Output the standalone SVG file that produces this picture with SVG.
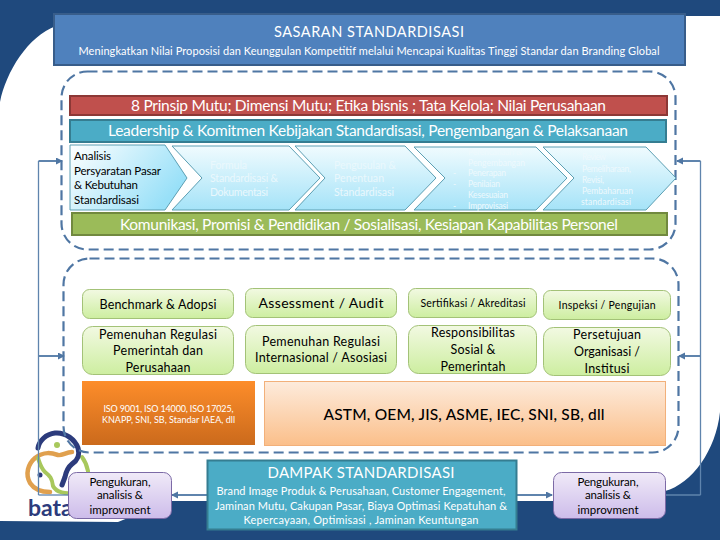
<svg xmlns="http://www.w3.org/2000/svg" width="720" height="540" viewBox="0 0 720 540">
<style>
text{font-family:Lato,"Open Sans","DejaVu Sans",sans-serif;text-anchor:middle}
.w{fill:#fff}.k{fill:#000}
.s{text-anchor:start}
.f{fill:#eaf8fd;font-size:10.500px}
.f8{fill:#eef9fd;font-size:8.500px;text-anchor:start}
.dash{fill:none;stroke:#4f76a3;stroke-width:2.200;stroke-dasharray:10 5}
.line{fill:none;stroke:#5f84ad;stroke-width:1.300}
.thick{fill:none;stroke:#5f84ad;stroke-width:2;marker-end:url(#ah)}
.chev{fill:url(#gc);stroke:#5c9fb3;stroke-width:1}
.gn{fill:url(#gg);stroke:#a3c277;stroke-width:1}
.pu{fill:url(#gp);stroke:#7c6aa6;stroke-width:1}
.logo{fill:none;stroke-linecap:round;stroke-linejoin:round}
</style>
<defs>
<marker id="ah" markerWidth="8" markerHeight="8" refX="6" refY="3.500" orient="auto" markerUnits="userSpaceOnUse"><path d="M0 0L7 3.500L0 7Z" fill="#4f76a3"/></marker>
<linearGradient id="gc" x1="0" y1="0" x2="0" y2="1"><stop offset="0" stop-color="#f0fbfe"/><stop offset="1" stop-color="#a5e3f8"/></linearGradient>
<linearGradient id="gc1" x1="0" y1="0" x2="1" y2="0.500"><stop offset="0" stop-color="#fff"/><stop offset="1" stop-color="#98e0f8"/></linearGradient>
<linearGradient id="gg" x1="0" y1="0" x2="0" y2="1"><stop offset="0" stop-color="#f2f9e2"/><stop offset="1" stop-color="#cdeea0"/></linearGradient>
<linearGradient id="gp" x1="0" y1="0" x2="0" y2="1"><stop offset="0" stop-color="#f0eaf8"/><stop offset="1" stop-color="#cdbcea"/></linearGradient>
<linearGradient id="go" x1="0" y1="0" x2="0" y2="1"><stop offset="0" stop-color="#fd8d2a"/><stop offset="1" stop-color="#cb6a1c"/></linearGradient>
<linearGradient id="gl" x1="0" y1="0" x2="0" y2="1"><stop offset="0" stop-color="#fdebdc"/><stop offset="1" stop-color="#fbbf8a"/></linearGradient>
</defs>

<g id="background">
<rect width="720" height="540" fill="#1f497d"/>
<path d="M0 102C6 72 28 36 56 26L56 16L720 16L720 412C716 450 692 484 665 491L620 501L170 501L118 522L0 521Z" fill="#fff"/>
</g>

<g id="logo">
<path class="logo" stroke="#e0a04e" stroke-width="4.500" d="M72 452C66 452 62 456 58 455C52 453 44 451 35 458C28 464 25 474 30 483C34 489 42 492 50 492"/>
<path class="logo" stroke="#a8c85c" stroke-width="4" d="M38 458C40 464 41 468 45 472C50 476 52 478 53 486C56 492 66 495 75 492C83 489 89 480 88 471C87 466 85 461 82 457"/>
<path class="logo" stroke="#2c3b7c" stroke-width="5" d="M38 448C39 441 46 434 55 433C66 432 75 440 78 448C80 455 77 461 72 464C67 468 66 472 65 477L62 485"/>
<circle cx="57" cy="445" r="3" fill="#a8c85c"/>
<circle cx="40" cy="475" r="2.500" fill="#2c3b7c"/>
<text class="s" x="28" y="516" style="font-size:23px;font-weight:700;fill:#2c3b7c">bata</text>
</g>

<g id="connectors">
<path class="line" d="M38.500 495L38.500 161"/>
<path class="thick" d="M38.500 161L62 161"/>
<path class="thick" d="M38.500 356L64 356"/>
<path class="line" d="M38.500 495L70 495"/>
<path class="line" d="M700.500 495L700.500 161"/>
<path class="thick" d="M700.500 161L677 161"/>
<path class="thick" d="M700.500 356L679 356"/>
<path class="line" d="M665 495L700.500 495"/>
<path class="thick" d="M207 495L172 495"/>
<path class="thick" d="M517 495L552 495"/>
</g>

<g id="frames">
<rect class="dash" x="61.500" y="71.500" width="614" height="178" rx="26"/>
<rect class="dash" x="63.500" y="258.500" width="615" height="194" rx="26"/>
</g>

<g id="sasaran">
<rect x="54" y="14" width="631" height="51" fill="#4f81bd" stroke="#385d8a" stroke-width="2"/>
<text class="w" x="369" y="37" font-size="14.500" textLength="190">SASARAN STANDARDISASI</text>
<text class="w" x="369" y="55" font-size="11" textLength="581">Meningkatkan Nilai Proposisi dan Keunggulan Kompetitif melalui Mencapai Kualitas Tinggi Standar dan Branding Global</text>
</g>

<g id="prinsip">
<rect x="70" y="96" width="597" height="19" fill="#c0504d" stroke="#8c3836" stroke-width="2"/>
<text class="w" x="368.500" y="111" font-size="15.500" textLength="475">8 Prinsip Mutu; Dimensi Mutu; Etika bisnis ; Tata Kelola; Nilai Perusahaan</text>
</g>
<g id="leadership">
<rect x="70" y="120" width="596" height="22" fill="#4bacc6" stroke="#357d91" stroke-width="2"/>
<text class="w" x="368" y="136" font-size="15.500" textLength="520">Leadership &amp; Komitmen Kebijakan Standardisasi, Pengembangan &amp; Pelaksanaan</text>
</g>

<g id="step-1">
<path d="M70 145L165 145L187 178L165 210L70 210Z" fill="url(#gc1)" stroke="#5c9fb3"/>
<text class="k s" x="74" y="160" font-size="11.500" textLength="37">Analisis</text>
<text class="k s" x="74" y="175" font-size="11.500" textLength="87">Persyaratan Pasar</text>
<text class="k s" x="74" y="189" font-size="11.500" textLength="64">&amp; Kebutuhan</text>
<text class="k s" x="74" y="204" font-size="11.500" textLength="65">Standardisasi</text>
</g>
<g id="step-2">
<path class="chev" d="M172 146L289 146L320 178L289 210L172 210L202 178Z"/>
<text class="f s" x="210" y="169" textLength="37">Formula</text>
<text class="f s" x="210" y="182" textLength="68">Standardisasi &amp;</text>
<text class="f s" x="210" y="196" textLength="58">Dokumentasi</text>
</g>
<g id="step-3">
<path class="chev" d="M295 146L405 146L436 178L405 210L295 210L325 178Z"/>
<text class="f s" x="334" y="169" textLength="62">Pengusulan &amp;</text>
<text class="f s" x="334" y="182" textLength="50">Penentuan</text>
<text class="f s" x="334" y="196" textLength="60">Standardisasi</text>
</g>
<g id="step-4">
<path class="chev" d="M414 147L536 147L567 178L536 210L414 210L445 178Z"/>
<text class="f8" x="453" y="155">-</text>
<text class="f8" x="468" y="155" textLength="54">Perencanaan &amp;</text>
<text class="f8" x="468" y="166" textLength="57">Pengembangan</text>
<text class="f8" x="453" y="176">-</text>
<text class="f8" x="468" y="176" textLength="38">Penerapan</text>
<text class="f8" x="453" y="187">-</text>
<text class="f8" x="468" y="187" textLength="32">Penilaian</text>
<text class="f8" x="468" y="198" textLength="40">Kesesuaian</text>
<text class="f8" x="453" y="209">-</text>
<text class="f8" x="468" y="209" textLength="40">Improvisasi</text>
</g>
<g id="step-5">
<path class="chev" d="M543 147L646 147L676 178L646 210L543 210L574 178Z"/>
<text class="f8" x="582" y="160" textLength="24">Review</text>
<text class="f8" x="582" y="172" textLength="49">Pemeliharaan,</text>
<text class="f8" x="582" y="183" textLength="22">Revisi,</text>
<text class="f8" x="582" y="194" textLength="51">Pembaharuan</text>
<text class="f8" x="581" y="205" textLength="50">standardisasi</text>
</g>

<g id="komunikasi">
<rect x="72" y="213" width="595" height="22" fill="#9bbb59" stroke="#71893f" stroke-width="2"/>
<text class="w" x="369" y="230" font-size="15.500" textLength="498">Komunikasi, Promisi &amp; Pendidikan / Sosialisasi, Kesiapan Kapabilitas Personel</text>
</g>

<g id="benchmark"><rect class="gn" x="82.500" y="289.500" width="151" height="29" rx="7"/>
<text class="k" x="158" y="309" font-size="12.500" textLength="117">Benchmark &amp; Adopsi</text></g>
<g id="assessment"><rect class="gn" x="245.500" y="288.500" width="151" height="29" rx="7"/>
<text class="k" x="321" y="308" font-size="14" textLength="125">Assessment / Audit</text></g>
<g id="sertifikasi"><rect class="gn" x="408.500" y="288.500" width="128" height="29" rx="7"/>
<text class="k" x="473" y="307" font-size="10.500" textLength="105">Sertifikasi / Akreditasi</text></g>
<g id="inspeksi"><rect class="gn" x="543.500" y="290.500" width="127" height="29" rx="7"/>
<text class="k" x="607" y="309" font-size="10.500" textLength="97">Inspeksi / Pengujian</text></g>

<g id="regulasi-pemerintah"><rect class="gn" x="82.500" y="326.500" width="151" height="48" rx="10"/>
<text class="k" x="158" y="339" font-size="12.500" textLength="118">Pemenuhan Regulasi</text>
<text class="k" x="158" y="355" font-size="12.500" textLength="90">Pemerintah dan</text>
<text class="k" x="158" y="372" font-size="12.500" textLength="65">Perusahaan</text></g>
<g id="regulasi-internasional"><rect class="gn" x="245.500" y="325.500" width="151" height="48" rx="10"/>
<text class="k" x="321" y="346" font-size="12.500" textLength="118">Pemenuhan Regulasi</text>
<text class="k" x="321" y="362" font-size="12.500" textLength="132">Internasional / Asosiasi</text></g>
<g id="responsibilitas"><rect class="gn" x="408.500" y="325.500" width="128" height="48" rx="10"/>
<text class="k" x="473" y="337" font-size="12.500" textLength="84">Responsibilitas</text>
<text class="k" x="473" y="354" font-size="12.500" textLength="45">Sosial &amp;</text>
<text class="k" x="473" y="371" font-size="12.500" textLength="65">Pemerintah</text></g>
<g id="persetujuan"><rect class="gn" x="543.500" y="327.500" width="127" height="48" rx="10"/>
<text class="k" x="607" y="339" font-size="12.500" textLength="68">Persetujuan</text>
<text class="k" x="607" y="356" font-size="12.500" textLength="66">Organisasi /</text>
<text class="k" x="607" y="373" font-size="12.500" textLength="45">Institusi</text></g>

<g id="iso"><rect x="82" y="381" width="173" height="64" fill="url(#go)"/>
<text class="w" x="168.500" y="412" font-size="9" textLength="130">ISO 9001, ISO 14000, ISO 17025,</text>
<text class="w" x="168.500" y="423" font-size="9" textLength="133">KNAPP, SNI, SB, Standar IAEA, dll</text></g>
<g id="astm"><rect x="264.500" y="381.500" width="401" height="64" fill="url(#gl)" stroke="#f2b07a"/>
<text class="k" x="464" y="420" font-size="15.500" font-weight="500" textLength="281">ASTM, OEM, JIS, ASME, IEC, SNI, SB, dll</text></g>

<g id="dampak"><rect x="207.500" y="460.500" width="309" height="69" fill="#4bacc6" stroke="#357d91" stroke-width="2"/>
<text class="w" x="361" y="478" font-size="15" textLength="187">DAMPAK STANDARDISASI</text>
<text class="w" x="361" y="495" font-size="11" textLength="289">Brand Image Produk &amp; Perusahaan, Customer Engagement,</text>
<text class="w" x="361" y="510" font-size="11" textLength="292">Jaminan Mutu, Cakupan Pasar, Biaya Optimasi Kepatuhan &amp;</text>
<text class="w" x="361" y="524" font-size="11" textLength="235">Kepercayaan, Optimisasi , Jaminan Keuntungan</text></g>

<g id="pengukuran-kiri"><rect class="pu" x="68.500" y="472.500" width="103" height="46" rx="8"/>
<text class="k" x="120" y="486" font-size="11.500" textLength="61">Pengukuran,</text>
<text class="k" x="120" y="499" font-size="11.500" textLength="46">analisis &amp;</text>
<text class="k" x="120" y="514" font-size="11.500" textLength="61">improvment</text></g>
<g id="pengukuran-kanan"><rect class="pu" x="553.500" y="472.500" width="112" height="46" rx="8"/>
<text class="k" x="608" y="486" font-size="11.500" textLength="61">Pengukuran,</text>
<text class="k" x="608" y="499" font-size="11.500" textLength="46">analisis &amp;</text>
<text class="k" x="608" y="514" font-size="11.500" textLength="61">improvment</text></g>
</svg>
